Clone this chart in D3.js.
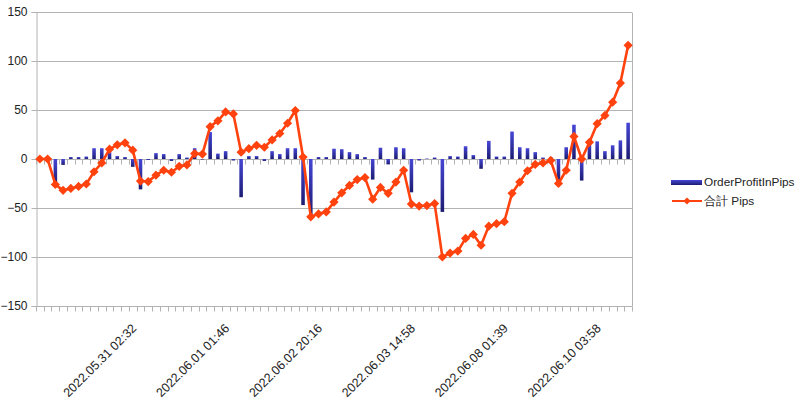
<!DOCTYPE html>
<html>
<head>
<meta charset="utf-8">
<script src="https://cdn.jsdelivr.net/npm/d3@7"></script>
<style>
  html, body { margin: 0; padding: 0; background: #ffffff; }
  svg { display: block; font-family: "Liberation Sans", Arial, sans-serif; }
</style>
</head>
<body>
<svg id="chart" width="800" height="399"></svg>
<script>
// ---- data ----
const categoryCount = 77;
const labelIndex = [12, 24, 36, 48, 60, 72];
const labelText = [
  "2022.05.31 02:32",
  "2022.06.01 01:46",
  "2022.06.02 20:16",
  "2022.06.03 14:58",
  "2022.06.08 01:39",
  "2022.06.10 03:58"
];
const yTicks = [-150, -100, -50, 0, 50, 100, 150];
const seriesNames = ["OrderProfitInPips", "合計 Pips"];

const orderProfitInPips = [
  0, 0, -25, -6, 2, 2, 2.5, 11, 11, 7,
  3, 2, -8, -31, -1, 6, 5, -2, 5, 1.5,
  11, -0.5, 27.5, 5.5, 8, -1.5, -39, 3, 3, -2,
  8, 5, 11, 11, -47, -58, 2, 2, 10.5, 10,
  7, 5, 2, -21, 11.5, -5.5, 12, 11, -34, -1.5,
  0.5, 1.5, -54, 3, 2.5, 13, 4, -10, 18.5, 2.5,
  2.5, 28, 12, 11, 7, 1.5, 2, -22, 12, 35,
  -22, 15, 18, 8, 14, 19, 37
];
const totalPips = [
  0, 0, -26, -32, -30, -28, -25.5, -13, -4, 10,
  14.5, 16.5, 9, -22.5, -23, -16.5, -11.5, -13.5, -7.5, -6,
  5.5, 5, 33, 39, 48, 46, 7, 10.5, 14, 12,
  19.5, 26, 36.5, 49.5, 2, -59, -56, -54, -44, -34.5,
  -27, -21, -19, -41, -29, -35, -23.5, -11.5, -46, -48,
  -47.5, -45.5, -100, -96, -94, -81, -77, -88, -68.5, -66,
  -64, -35, -23.5, -12, -5.5, -4, -1.5, -25, -11.5, 23,
  0, 17, 36, 44.5, 58, 77.5, 116
];

// ---- layout ----
const plot = { left: 36, right: 632, top: 12, bottom: 306 };
const gridColor = "#b3b3b3";
const lineColor = "#ff420e";
const textColor = "#222";

const svg = d3.select("#chart");

const defs = svg.append("defs");
const grad = defs.append("linearGradient")
  .attr("id", "barGrad").attr("x1", 0).attr("y1", 0).attr("x2", 0).attr("y2", 1);
grad.append("stop").attr("offset", "0%").attr("stop-color", "#4646d6");
grad.append("stop").attr("offset", "100%").attr("stop-color", "#1c1c72");

const cats = d3.range(categoryCount);
const x = d3.scaleBand().domain(cats).range([plot.left, plot.right]).padding(0);
const step = x.step();
const y = d3.scaleLinear().domain([-150, 150]).range([plot.bottom, plot.top]);

// gridlines
svg.append("g").selectAll("line").data(yTicks).join("line")
  .attr("x1", plot.left).attr("x2", plot.right)
  .attr("y1", d => Math.round(y(d)) + 0.5).attr("y2", d => Math.round(y(d)) + 0.5)
  .attr("stroke", gridColor).attr("stroke-width", 1);

// right border
svg.append("line")
  .attr("x1", plot.right + 0.5).attr("x2", plot.right + 0.5)
  .attr("y1", Math.round(y(150)) + 0.5).attr("y2", Math.round(y(-150)) + 0.5)
  .attr("stroke", gridColor);

// y axis
const yAxis = d3.axisLeft(y).tickValues(yTicks).tickSize(5).tickPadding(4);
const gy = svg.append("g").attr("transform", `translate(${plot.left + 0.5},0)`).call(yAxis);
gy.select(".domain").attr("stroke", gridColor);
gy.selectAll(".tick line").attr("stroke", gridColor);
gy.selectAll(".tick text").attr("fill", textColor)
  .style("font-size", "12px").style("font-family", "'Liberation Sans', Arial, sans-serif");

// category boundary ticks (on zero line and at bottom)
const boundaries = d3.range(categoryCount + 1).map(i => plot.left + i * step);
[[y(0), 5], [y(-150), 5]].forEach(([yy, len]) => {
  svg.append("g").selectAll("line").data(boundaries).join("line")
    .attr("x1", d => Math.round(d) + 0.5).attr("x2", d => Math.round(d) + 0.5)
    .attr("y1", Math.round(yy) + 0.5).attr("y2", Math.round(yy) + 0.5 + len)
    .attr("stroke", gridColor);
});

// x labels
const labelG = svg.append("g");
labelIndex.forEach((ci, k) => {
  const cx = x(ci) + step / 2 + 4.5;
  labelG.append("text")
    .attr("transform", `translate(${cx},${plot.bottom + 23}) rotate(-45)`)
    .attr("text-anchor", "end")
    .attr("fill", textColor)
    .style("font-size", "12.5px")
    .text(labelText[k]);
});

// bars
const barW = step * 0.46;
svg.append("g").selectAll("rect").data(orderProfitInPips).join("rect")
  .attr("x", (d, i) => x(i) + (step - barW) / 2)
  .attr("width", barW)
  .attr("y", d => Math.min(y(d), y(0)))
  .attr("height", d => Math.abs(y(d) - y(0)))
  .attr("fill", "url(#barGrad)");

// line
const line = d3.line().x((d, i) => x(i) + step / 2).y(d => y(d));
svg.append("path").datum(totalPips)
  .attr("d", line)
  .attr("fill", "none").attr("stroke", lineColor)
  .attr("stroke-width", 2.6).attr("stroke-linejoin", "round");

const diamond = "M0,-4.6L4.6,0L0,4.6L-4.6,0Z";
svg.append("g").selectAll("path").data(totalPips).join("path")
  .attr("transform", (d, i) => `translate(${x(i) + step / 2},${y(d)})`)
  .attr("d", diamond)
  .attr("fill", lineColor);

// legend
const lg = svg.append("g");
lg.append("rect").attr("x", 671).attr("y", 180).attr("width", 31).attr("height", 5)
  .attr("fill", "url(#barGrad)");
lg.append("text").attr("x", 704).attr("y", 186).attr("fill", textColor)
  .style("font-size", "11.8px").text(seriesNames[0]);
lg.append("line").attr("x1", 672).attr("x2", 702).attr("y1", 201).attr("y2", 201)
  .attr("stroke", lineColor).attr("stroke-width", 2);
lg.append("path").attr("transform", "translate(687,201)").attr("d", "M0,-3.6L3.6,0L0,3.6L-3.6,0Z")
  .attr("fill", lineColor);
lg.append("text").attr("x", 704).attr("y", 205).attr("fill", textColor)
  .style("font-size", "11.8px").text(seriesNames[1]);
</script>
</body>
</html>
